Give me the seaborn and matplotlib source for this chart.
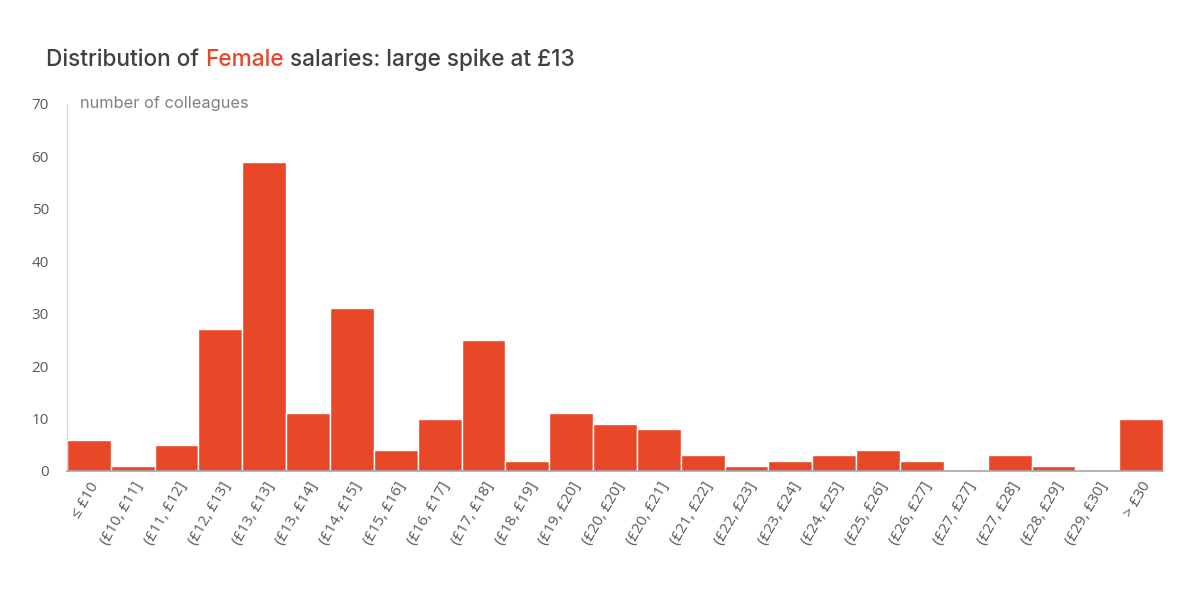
import pandas as pd
import seaborn as sns
import matplotlib.pyplot as plt

# Data
bins = ['≤ £10', '(£10, £11]', '(£11, £12]', '(£12, £13]', '(£13, £13]', '(£13, £14]',
        '(£14, £15]', '(£15, £16]', '(£16, £17]', '(£17, £18]', '(£18, £19]', '(£19, £20]',
        '(£20, £20]', '(£20, £21]', '(£21, £22]', '(£22, £23]', '(£23, £24]', '(£24, £25]',
        '(£25, £26]', '(£26, £27]', '(£27, £27]', '(£27, £28]', '(£28, £29]', '(£29, £30]',
        '> £30']
counts = [6, 1, 5, 27, 59, 11, 31, 4, 10, 25, 2, 11, 9, 8, 3, 1, 2, 3, 4, 2, 0, 3, 1, 0, 10]

red = '#E94828'
df = pd.DataFrame({'bin': bins, 'count': counts})

sns.set_style('white')
plt.rcParams['font.family'] = ['Open Sans', 'DejaVu Sans']

fig = plt.figure(figsize=(12, 6), dpi=100)
ax = fig.add_axes([0.0558, 0.215, 0.9134, 0.612])

sns.barplot(data=df, x='bin', y='count', color=red, width=1.0, edgecolor='white',
            linewidth=1.0, saturation=1, ax=ax)

ax.set_xlim(-0.5, len(bins) - 0.5)
ax.set_ylim(0, 70)
ax.set_yticks(range(0, 71, 10))
ax.set_xlabel('')
ax.set_ylabel('')
ax.tick_params(axis='y', length=0, labelsize=11, labelcolor='#595959', pad=13)
ax.tick_params(axis='x', length=0, labelsize=11, labelcolor='#595959', pad=6)
for lbl in ax.get_xticklabels():
    lbl.set_rotation(60)
    lbl.set_ha('right')
    lbl.set_rotation_mode('anchor')

for s in ['top', 'right']:
    ax.spines[s].set_visible(False)
ax.spines['left'].set_color('#d9d9d9')
ax.spines['bottom'].set_color('#a6a6a6')
ax.spines['bottom'].set_linewidth(1.2)

ax.text(0.012, 1.0, 'number of colleagues', transform=ax.transAxes, fontsize=11.8,
        color='#808080', va='center', ha='left', family=['Inter', 'DejaVu Sans'])

# Title in three parts so "Female" can be red
parts = [('Distribution of ', '#404040'), ('Female', red), (' salaries: large spike at £13', '#404040')]
fig.canvas.draw()
renderer = fig.canvas.get_renderer()
x = 46 / 1200
for txt, col in parts:
    t = fig.text(x, 1 - 60 / 600, txt, fontsize=16.3, color=col, va='center', ha='left',
                 fontweight='medium', family=['Inter', 'DejaVu Sans'])
    bb = t.get_window_extent(renderer=renderer)
    x += bb.width / fig.bbox.width

fig.savefig('out.png', dpi=100)
